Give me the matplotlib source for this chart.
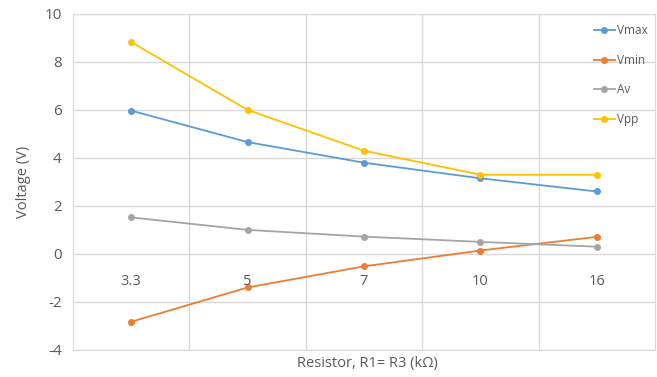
import matplotlib.pyplot as plt

resistors = ['3.3', '5', '7', '10', '16']
vmax = [5.97, 4.66, 3.8, 3.15, 2.6]
vmin = [-2.83, -1.4, -0.52, 0.14, 0.71]
av = [1.52, 1.0, 0.72, 0.5, 0.3]
vpp = [8.83, 6.0, 4.3, 3.3, 3.3]

plt.rcParams['font.family'] = ['Open Sans', 'DejaVu Sans']
plt.rcParams['axes.unicode_minus'] = False
text_color = '#595959'
grid_color = '#d9d9d9'

fig = plt.figure(figsize=(6.57, 3.77), dpi=100)
ax = fig.add_axes([0.111, 0.072, 0.886, 0.891])

x = list(range(len(resistors)))
ax.plot(x, vmax, color='#5B9BD5', marker='o', ms=4, lw=1.3, label='Vmax')
ax.plot(x, vmin, color='#ED7D31', marker='o', ms=4, lw=1.3, label='Vmin')
ax.plot(x, av, color='#A5A5A5', marker='o', ms=4, lw=1.3, label='Av')
ax.plot(x, vpp, color='#FFC000', marker='o', ms=4, lw=1.3, label='Vpp')

ax.set_xlim(-0.5, len(resistors) - 0.5)
ax.set_ylim(-4, 10)
ax.set_yticks(range(-4, 11, 2))
ax.set_xticks([i + 0.5 for i in range(len(resistors) - 1)])
ax.set_xticklabels([])
ax.tick_params(length=0, labelsize=11, colors=text_color, pad=8)
ax.grid(True, color=grid_color, lw=1)
ax.set_axisbelow(True)
for s in ax.spines.values():
    s.set_color(grid_color)

# category labels sit just under the zero line
for i, lab in enumerate(resistors):
    ax.annotate(lab, (i, 0), xytext=(0, -20), textcoords='offset points',
                ha='center', va='center', fontsize=10.5, color=text_color)

ax.set_ylabel('Voltage (V)', fontsize=10.5, color=text_color, labelpad=10)
fig.text(0.56, 0.035, 'Resistor, R1= R3 (k\u03a9)', ha='center', va='center',
         fontsize=10.5, color=text_color)

leg = ax.legend(loc='upper right', bbox_to_anchor=(1.0, 0.99), frameon=False,
                fontsize=8.5, labelspacing=1.4, handlelength=1.8, handletextpad=0.2,
                borderaxespad=0.2)
for t in leg.get_texts():
    t.set_color(text_color)

plt.savefig('out.png')
